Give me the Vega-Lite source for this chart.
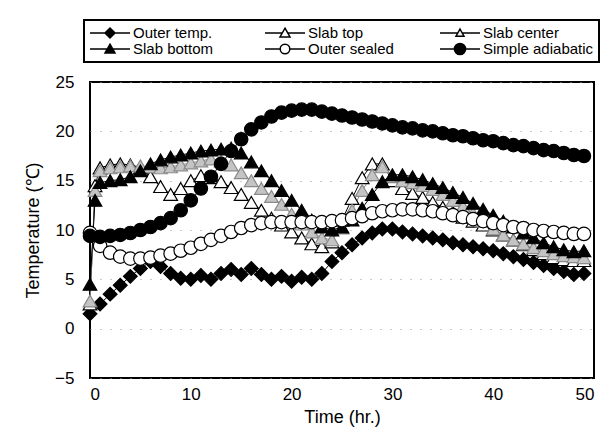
{
  "$schema": "https://vega.github.io/schema/vega-lite/v6.json",
  "width": 504,
  "height": 296,
  "autosize": "none",
  "padding": {"left": 90, "top": 82, "right": 18, "bottom": 59},
  "background": "white",
  "config": {
    "view": {"stroke": "black", "strokeWidth": 2},
    "font": "Liberation Sans",
    "axis": {"labelFont": "Liberation Sans", "titleFont": "Liberation Sans", "labelColor": "black", "titleColor": "black", "labelFontSize": 17, "titleFontSize": 18, "titleFontWeight": 400, "domain": false, "ticks": false},
    "legend": {
      "orient": "none", "legendX": -6, "legendY": -62, "columns": 3, "direction": "horizontal", "gridAlign": "all",
      "symbolSize": 256, "symbolStrokeWidth": 1.5, "labelFont": "Liberation Sans", "labelFontSize": 15, "labelColor": "black",
      "labelOffset": 26, "columnPadding": 20, "rowPadding": -2, "clipHeight": 16, "padding": 5, "strokeColor": "black", "strokeWidth": 2, "fillColor": "white", "title": null
    }
  },
  "datasets": {
    "d": [
      {"s":"Outer temp.","t":0,"v":1.5},{"s":"Outer temp.","t":1,"v":2.5},{"s":"Outer temp.","t":2,"v":3.5},{"s":"Outer temp.","t":3,"v":4.4},{"s":"Outer temp.","t":4,"v":5.3},{"s":"Outer temp.","t":5,"v":6.1},{"s":"Outer temp.","t":6,"v":6.8},{"s":"Outer temp.","t":7,"v":6.3},{"s":"Outer temp.","t":8,"v":5.6},{"s":"Outer temp.","t":9,"v":5.1},{"s":"Outer temp.","t":10,"v":5.0},{"s":"Outer temp.","t":11,"v":5.4},{"s":"Outer temp.","t":12,"v":5.0},{"s":"Outer temp.","t":13,"v":5.6},{"s":"Outer temp.","t":14,"v":6.0},{"s":"Outer temp.","t":15,"v":5.5},{"s":"Outer temp.","t":16,"v":6.1},{"s":"Outer temp.","t":17,"v":5.5},{"s":"Outer temp.","t":18,"v":5.0},{"s":"Outer temp.","t":19,"v":5.3},{"s":"Outer temp.","t":20,"v":4.8},{"s":"Outer temp.","t":21,"v":5.2},{"s":"Outer temp.","t":22,"v":5.0},{"s":"Outer temp.","t":23,"v":5.6},{"s":"Outer temp.","t":24,"v":6.8},{"s":"Outer temp.","t":25,"v":7.7},{"s":"Outer temp.","t":26,"v":8.5},{"s":"Outer temp.","t":27,"v":9.2},{"s":"Outer temp.","t":28,"v":9.7},{"s":"Outer temp.","t":29,"v":10.1},{"s":"Outer temp.","t":30,"v":10.1},{"s":"Outer temp.","t":31,"v":9.8},{"s":"Outer temp.","t":32,"v":9.6},{"s":"Outer temp.","t":33,"v":9.4},{"s":"Outer temp.","t":34,"v":9.2},{"s":"Outer temp.","t":35,"v":9.0},{"s":"Outer temp.","t":36,"v":8.7},{"s":"Outer temp.","t":37,"v":8.5},{"s":"Outer temp.","t":38,"v":8.3},{"s":"Outer temp.","t":39,"v":8.1},{"s":"Outer temp.","t":40,"v":7.9},{"s":"Outer temp.","t":41,"v":7.6},{"s":"Outer temp.","t":42,"v":7.3},{"s":"Outer temp.","t":43,"v":7.0},{"s":"Outer temp.","t":44,"v":6.7},{"s":"Outer temp.","t":45,"v":6.4},{"s":"Outer temp.","t":46,"v":6.1},{"s":"Outer temp.","t":47,"v":5.8},{"s":"Outer temp.","t":48,"v":5.5},{"s":"Outer temp.","t":49,"v":5.6},
      {"s":"Slab top","t":0,"v":2.5},{"s":"Slab top","t":0.5,"v":14.5},{"s":"Slab top","t":1,"v":16.3},{"s":"Slab top","t":2,"v":16.6},{"s":"Slab top","t":3,"v":16.7},{"s":"Slab top","t":4,"v":16.6},{"s":"Slab top","t":5,"v":16.3},{"s":"Slab top","t":6,"v":15.4},{"s":"Slab top","t":7,"v":14.4},{"s":"Slab top","t":8,"v":13.6},{"s":"Slab top","t":9,"v":14.2},{"s":"Slab top","t":10,"v":15.0},{"s":"Slab top","t":11,"v":15.5},{"s":"Slab top","t":12,"v":15.3},{"s":"Slab top","t":13,"v":14.9},{"s":"Slab top","t":14,"v":14.3},{"s":"Slab top","t":15,"v":13.6},{"s":"Slab top","t":16,"v":12.8},{"s":"Slab top","t":17,"v":12.0},{"s":"Slab top","t":18,"v":11.2},{"s":"Slab top","t":19,"v":10.5},{"s":"Slab top","t":20,"v":9.8},{"s":"Slab top","t":21,"v":9.2},{"s":"Slab top","t":22,"v":8.6},{"s":"Slab top","t":23,"v":8.3},{"s":"Slab top","t":24,"v":8.8},{"s":"Slab top","t":25,"v":11.0},{"s":"Slab top","t":26,"v":13.2},{"s":"Slab top","t":27,"v":15.3},{"s":"Slab top","t":28,"v":16.7},{"s":"Slab top","t":29,"v":16.7},{"s":"Slab top","t":30,"v":15.0},{"s":"Slab top","t":31,"v":14.2},{"s":"Slab top","t":32,"v":13.7},{"s":"Slab top","t":33,"v":13.3},{"s":"Slab top","t":34,"v":12.8},{"s":"Slab top","t":35,"v":12.3},{"s":"Slab top","t":36,"v":11.8},{"s":"Slab top","t":37,"v":11.3},{"s":"Slab top","t":38,"v":10.9},{"s":"Slab top","t":39,"v":10.5},{"s":"Slab top","t":40,"v":10.0},{"s":"Slab top","t":41,"v":9.5},{"s":"Slab top","t":42,"v":9.0},{"s":"Slab top","t":43,"v":8.5},{"s":"Slab top","t":44,"v":8.0},{"s":"Slab top","t":45,"v":7.6},{"s":"Slab top","t":46,"v":7.2},{"s":"Slab top","t":47,"v":7.0},{"s":"Slab top","t":48,"v":6.9},{"s":"Slab top","t":49,"v":6.9},
      {"s":"Slab center","t":0,"v":2.8},{"s":"Slab center","t":0.5,"v":14.0},{"s":"Slab center","t":1,"v":16.0},{"s":"Slab center","t":2,"v":16.3},{"s":"Slab center","t":3,"v":16.4},{"s":"Slab center","t":4,"v":16.5},{"s":"Slab center","t":5,"v":16.5},{"s":"Slab center","t":6,"v":16.4},{"s":"Slab center","t":7,"v":16.3},{"s":"Slab center","t":8,"v":16.4},{"s":"Slab center","t":9,"v":16.6},{"s":"Slab center","t":10,"v":16.8},{"s":"Slab center","t":11,"v":17.0},{"s":"Slab center","t":12,"v":17.2},{"s":"Slab center","t":13,"v":17.0},{"s":"Slab center","t":14,"v":16.6},{"s":"Slab center","t":15,"v":15.8},{"s":"Slab center","t":16,"v":15.0},{"s":"Slab center","t":17,"v":14.2},{"s":"Slab center","t":18,"v":13.4},{"s":"Slab center","t":19,"v":12.6},{"s":"Slab center","t":20,"v":11.6},{"s":"Slab center","t":21,"v":10.6},{"s":"Slab center","t":22,"v":9.8},{"s":"Slab center","t":23,"v":9.2},{"s":"Slab center","t":24,"v":9.0},{"s":"Slab center","t":25,"v":10.2},{"s":"Slab center","t":26,"v":12.0},{"s":"Slab center","t":27,"v":14.0},{"s":"Slab center","t":28,"v":15.6},{"s":"Slab center","t":29,"v":16.4},{"s":"Slab center","t":30,"v":15.4},{"s":"Slab center","t":31,"v":15.0},{"s":"Slab center","t":32,"v":14.8},{"s":"Slab center","t":33,"v":14.5},{"s":"Slab center","t":34,"v":14.1},{"s":"Slab center","t":35,"v":13.6},{"s":"Slab center","t":36,"v":13.0},{"s":"Slab center","t":37,"v":12.4},{"s":"Slab center","t":38,"v":11.7},{"s":"Slab center","t":39,"v":10.9},{"s":"Slab center","t":40,"v":10.1},{"s":"Slab center","t":41,"v":9.5},{"s":"Slab center","t":42,"v":9.0},{"s":"Slab center","t":43,"v":8.6},{"s":"Slab center","t":44,"v":8.2},{"s":"Slab center","t":45,"v":7.9},{"s":"Slab center","t":46,"v":7.6},{"s":"Slab center","t":47,"v":7.4},{"s":"Slab center","t":48,"v":7.3},{"s":"Slab center","t":49,"v":7.2},
      {"s":"Slab bottom","t":0,"v":4.5},{"s":"Slab bottom","t":0.5,"v":13.0},{"s":"Slab bottom","t":1,"v":14.8},{"s":"Slab bottom","t":2,"v":15.0},{"s":"Slab bottom","t":3,"v":15.1},{"s":"Slab bottom","t":4,"v":15.4},{"s":"Slab bottom","t":5,"v":16.0},{"s":"Slab bottom","t":6,"v":16.7},{"s":"Slab bottom","t":7,"v":17.1},{"s":"Slab bottom","t":8,"v":17.4},{"s":"Slab bottom","t":9,"v":17.6},{"s":"Slab bottom","t":10,"v":17.8},{"s":"Slab bottom","t":11,"v":18.0},{"s":"Slab bottom","t":12,"v":18.1},{"s":"Slab bottom","t":13,"v":18.2},{"s":"Slab bottom","t":14,"v":18.3},{"s":"Slab bottom","t":15,"v":17.8},{"s":"Slab bottom","t":16,"v":16.9},{"s":"Slab bottom","t":17,"v":16.0},{"s":"Slab bottom","t":18,"v":15.0},{"s":"Slab bottom","t":19,"v":14.0},{"s":"Slab bottom","t":20,"v":13.0},{"s":"Slab bottom","t":21,"v":12.0},{"s":"Slab bottom","t":22,"v":11.0},{"s":"Slab bottom","t":23,"v":10.3},{"s":"Slab bottom","t":24,"v":10.0},{"s":"Slab bottom","t":25,"v":10.3},{"s":"Slab bottom","t":26,"v":11.0},{"s":"Slab bottom","t":27,"v":12.2},{"s":"Slab bottom","t":28,"v":13.6},{"s":"Slab bottom","t":29,"v":14.9},{"s":"Slab bottom","t":30,"v":15.6},{"s":"Slab bottom","t":31,"v":15.6},{"s":"Slab bottom","t":32,"v":15.4},{"s":"Slab bottom","t":33,"v":15.1},{"s":"Slab bottom","t":34,"v":14.7},{"s":"Slab bottom","t":35,"v":14.3},{"s":"Slab bottom","t":36,"v":13.8},{"s":"Slab bottom","t":37,"v":13.3},{"s":"Slab bottom","t":38,"v":12.7},{"s":"Slab bottom","t":39,"v":12.1},{"s":"Slab bottom","t":40,"v":11.5},{"s":"Slab bottom","t":41,"v":10.9},{"s":"Slab bottom","t":42,"v":10.3},{"s":"Slab bottom","t":43,"v":9.7},{"s":"Slab bottom","t":44,"v":9.2},{"s":"Slab bottom","t":45,"v":8.7},{"s":"Slab bottom","t":46,"v":8.3},{"s":"Slab bottom","t":47,"v":8.0},{"s":"Slab bottom","t":48,"v":7.8},{"s":"Slab bottom","t":49,"v":7.9},
      {"s":"Outer sealed","t":0,"v":9.7},{"s":"Outer sealed","t":1,"v":8.4},{"s":"Outer sealed","t":2,"v":7.7},{"s":"Outer sealed","t":3,"v":7.3},{"s":"Outer sealed","t":4,"v":7.1},{"s":"Outer sealed","t":5,"v":7.1},{"s":"Outer sealed","t":6,"v":7.2},{"s":"Outer sealed","t":7,"v":7.4},{"s":"Outer sealed","t":8,"v":7.6},{"s":"Outer sealed","t":9,"v":7.9},{"s":"Outer sealed","t":10,"v":8.2},{"s":"Outer sealed","t":11,"v":8.6},{"s":"Outer sealed","t":12,"v":9.0},{"s":"Outer sealed","t":13,"v":9.4},{"s":"Outer sealed","t":14,"v":9.8},{"s":"Outer sealed","t":15,"v":10.2},{"s":"Outer sealed","t":16,"v":10.5},{"s":"Outer sealed","t":17,"v":10.7},{"s":"Outer sealed","t":18,"v":10.8},{"s":"Outer sealed","t":19,"v":10.8},{"s":"Outer sealed","t":20,"v":10.8},{"s":"Outer sealed","t":21,"v":10.8},{"s":"Outer sealed","t":22,"v":10.8},{"s":"Outer sealed","t":23,"v":10.8},{"s":"Outer sealed","t":24,"v":10.9},{"s":"Outer sealed","t":25,"v":11.0},{"s":"Outer sealed","t":26,"v":11.2},{"s":"Outer sealed","t":27,"v":11.4},{"s":"Outer sealed","t":28,"v":11.7},{"s":"Outer sealed","t":29,"v":11.9},{"s":"Outer sealed","t":30,"v":12.0},{"s":"Outer sealed","t":31,"v":12.1},{"s":"Outer sealed","t":32,"v":12.1},{"s":"Outer sealed","t":33,"v":12.0},{"s":"Outer sealed","t":34,"v":11.9},{"s":"Outer sealed","t":35,"v":11.7},{"s":"Outer sealed","t":36,"v":11.5},{"s":"Outer sealed","t":37,"v":11.3},{"s":"Outer sealed","t":38,"v":11.1},{"s":"Outer sealed","t":39,"v":10.9},{"s":"Outer sealed","t":40,"v":10.7},{"s":"Outer sealed","t":41,"v":10.5},{"s":"Outer sealed","t":42,"v":10.3},{"s":"Outer sealed","t":43,"v":10.2},{"s":"Outer sealed","t":44,"v":10.0},{"s":"Outer sealed","t":45,"v":9.9},{"s":"Outer sealed","t":46,"v":9.8},{"s":"Outer sealed","t":47,"v":9.7},{"s":"Outer sealed","t":48,"v":9.6},{"s":"Outer sealed","t":49,"v":9.6},
      {"s":"Simple adiabatic","t":0,"v":9.4},{"s":"Simple adiabatic","t":1,"v":9.3},{"s":"Simple adiabatic","t":2,"v":9.4},{"s":"Simple adiabatic","t":3,"v":9.5},{"s":"Simple adiabatic","t":4,"v":9.7},{"s":"Simple adiabatic","t":5,"v":10.0},{"s":"Simple adiabatic","t":6,"v":10.3},{"s":"Simple adiabatic","t":7,"v":10.7},{"s":"Simple adiabatic","t":8,"v":11.2},{"s":"Simple adiabatic","t":9,"v":12.0},{"s":"Simple adiabatic","t":10,"v":13.0},{"s":"Simple adiabatic","t":11,"v":14.2},{"s":"Simple adiabatic","t":12,"v":15.4},{"s":"Simple adiabatic","t":13,"v":16.7},{"s":"Simple adiabatic","t":14,"v":18.0},{"s":"Simple adiabatic","t":15,"v":19.2},{"s":"Simple adiabatic","t":16,"v":20.2},{"s":"Simple adiabatic","t":17,"v":20.9},{"s":"Simple adiabatic","t":18,"v":21.5},{"s":"Simple adiabatic","t":19,"v":21.9},{"s":"Simple adiabatic","t":20,"v":22.1},{"s":"Simple adiabatic","t":21,"v":22.2},{"s":"Simple adiabatic","t":22,"v":22.2},{"s":"Simple adiabatic","t":23,"v":22.0},{"s":"Simple adiabatic","t":24,"v":21.8},{"s":"Simple adiabatic","t":25,"v":21.6},{"s":"Simple adiabatic","t":26,"v":21.4},{"s":"Simple adiabatic","t":27,"v":21.2},{"s":"Simple adiabatic","t":28,"v":21.0},{"s":"Simple adiabatic","t":29,"v":20.8},{"s":"Simple adiabatic","t":30,"v":20.6},{"s":"Simple adiabatic","t":31,"v":20.4},{"s":"Simple adiabatic","t":32,"v":20.3},{"s":"Simple adiabatic","t":33,"v":20.1},{"s":"Simple adiabatic","t":34,"v":20.0},{"s":"Simple adiabatic","t":35,"v":19.8},{"s":"Simple adiabatic","t":36,"v":19.6},{"s":"Simple adiabatic","t":37,"v":19.5},{"s":"Simple adiabatic","t":38,"v":19.3},{"s":"Simple adiabatic","t":39,"v":19.1},{"s":"Simple adiabatic","t":40,"v":19.0},{"s":"Simple adiabatic","t":41,"v":18.8},{"s":"Simple adiabatic","t":42,"v":18.6},{"s":"Simple adiabatic","t":43,"v":18.5},{"s":"Simple adiabatic","t":44,"v":18.3},{"s":"Simple adiabatic","t":45,"v":18.1},{"s":"Simple adiabatic","t":46,"v":18.0},{"s":"Simple adiabatic","t":47,"v":17.8},{"s":"Simple adiabatic","t":48,"v":17.6},{"s":"Simple adiabatic","t":49,"v":17.5}
    ]
  },
  "data": {"name": "d"},
  "encoding": {
    "x": {"field": "t", "type": "quantitative", "scale": {"domain": [0, 50], "nice": false}, "axis": {"values": [0, 10, 20, 30, 40, 50], "grid": false, "labelPadding": 8, "title": "Time (hr.)", "titlePadding": 6, "titleFontWeight": 400, "titleFontSize": 18}},
    "y": {"field": "v", "type": "quantitative", "scale": {"domain": [-5, 25], "nice": false}, "axis": {"values": [-5, 0, 5, 10, 15, 20, 25], "grid": true, "gridColor": "#999", "gridDash": [1, 9], "gridWidth": 1, "labelPadding": 16, "title": "Temperature (℃)", "titlePadding": 12, "titleFontWeight": 400, "titleFontSize": 18}}
  },
  "layer": [
    {
      "mark": {"type": "line", "strokeWidth": 1},
      "encoding": {
        "stroke": {"field": "s", "type": "nominal", "scale": {"domain": ["Outer temp.", "Slab top", "Slab center", "Slab bottom", "Outer sealed", "Simple adiabatic"], "range": ["black", "black", "#888888", "black", "black", "black"]}, "legend": null}
      }
    },
    {
      "mark": {"type": "point", "filled": true, "opacity": 1, "strokeWidth": 1.2},
      "encoding": {
        "shape": {"field": "s", "type": "nominal", "scale": {"domain": ["Outer temp.", "Slab top", "Slab center", "Slab bottom", "Outer sealed", "Simple adiabatic"], "range": ["diamond", "triangle-up", "triangle-up", "triangle-up", "circle", "circle"]}, "legend": null},
        "fill": {"field": "s", "type": "nominal", "scale": {"domain": ["Outer temp.", "Slab top", "Slab center", "Slab bottom", "Outer sealed", "Simple adiabatic"], "range": ["black", "white", "#c4c4c4", "black", "white", "black"]}, "legend": null},
        "stroke": {"field": "s", "type": "nominal", "scale": {"domain": ["Outer temp.", "Slab top", "Slab center", "Slab bottom", "Outer sealed", "Simple adiabatic"], "range": ["black", "black", "#8a8a8a", "black", "black", "black"]}, "legend": null},
        "size": {"field": "s", "type": "ordinal", "scale": {"domain": ["Outer temp.", "Slab top", "Slab center", "Slab bottom", "Outer sealed", "Simple adiabatic"], "range": [190, 180, 170, 180, 200, 270]}, "legend": null}
      }
    },
    {
      "transform": [{"filter": "datum.t < -1"}],
      "mark": {"type": "point", "filled": true, "opacity": 1},
      "encoding": {
        "shape": {"field": "s", "type": "nominal", "scale": {"domain": ["Outer temp.", "Slab top", "Slab center", "Slab bottom", "Outer sealed", "Simple adiabatic"], "range": [
          "M-1,0H0.9M2.1,0H4M1.5,-0.625L2.125,0L1.5,0.625L0.875,0Z",
          "M-1,0H1.16M1.84,0H4M1.5,-0.6L2.125,0.5L0.875,0.5Z",
          "M-1,0H1.22M1.78,0H4M1.5,-0.5L2,0.4L1,0.4Z",
          "M-1,0H1.16M1.84,0H4M1.5,-0.6L2.125,0.5L0.875,0.5Z",
          "M-1,0H0.9M2.1,0H4M2.1,0A0.6,0.6,0,1,1,0.9,0A0.6,0.6,0,1,1,2.1,0Z",
          "M-1,0H0.8M2.2,0H4M2.2,0A0.7,0.7,0,1,1,0.8,0A0.7,0.7,0,1,1,2.2,0Z"
        ]}},
        "fill": {"field": "s", "type": "nominal", "scale": {"domain": ["Outer temp.", "Slab top", "Slab center", "Slab bottom", "Outer sealed", "Simple adiabatic"], "range": ["black", "white", "#eeeeee", "black", "white", "black"]}},
        "stroke": {"field": "s", "type": "nominal", "scale": {"domain": ["Outer temp.", "Slab top", "Slab center", "Slab bottom", "Outer sealed", "Simple adiabatic"], "range": ["black", "black", "black", "black", "black", "black"]}}
      }
    }
  ],
  "resolve": {"scale": {"shape": "independent", "fill": "independent", "stroke": "independent"}}
}
